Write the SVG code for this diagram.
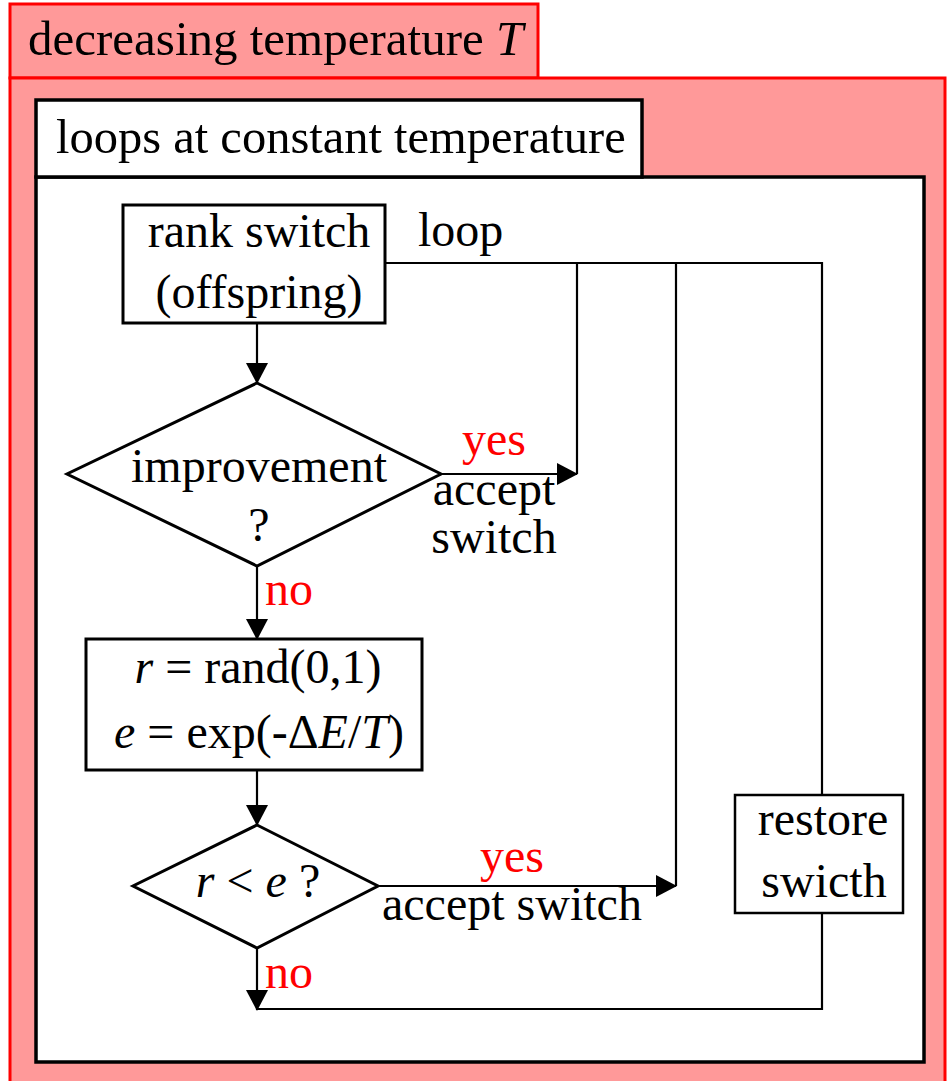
<svg xmlns="http://www.w3.org/2000/svg" width="947" height="1081" viewBox="0 0 947 1081">
<style>
text{font-family:"Liberation Serif","Times New Roman",serif;font-size:48px;fill:#000}
.red{fill:#ff0000}
.it{font-style:italic}
.frame{fill:#ff9999;stroke:#ff0000;stroke-width:3}
.inner{fill:#ffffff;stroke:#000;stroke-width:3.5}
.box{fill:#ffffff;stroke:#000;stroke-width:3}
.thin{fill:#ffffff;stroke:#000;stroke-width:2.5}
.con{fill:none;stroke:#000;stroke-width:2.2}
</style>
<defs>
<marker id="ah" markerUnits="userSpaceOnUse" markerWidth="22" markerHeight="24" refX="20" refY="12" orient="auto">
<path d="M0,1 L21,12 L0,23 z" fill="#000"/>
</marker>
</defs>
<g id="outer-frame">
<rect class="frame" x="10" y="4" width="528" height="74"/>
<rect class="frame" x="10" y="78" width="935" height="1015"/>
<text x="28" y="55" style="font-size:49px">decreasing temperature <tspan class="it">T</tspan></text>
</g>
<g id="inner-frame">
<rect class="inner" x="36" y="177" width="888" height="885"/>
<rect class="inner" x="36" y="100" width="606" height="77"/>
<text x="56" y="153" style="font-size:48.5px">loops at constant temperature</text>
</g>
<g id="connectors">
<line class="con" x1="257" y1="323" x2="257" y2="383" marker-end="url(#ah)"/>
<line class="con" x1="441" y1="474" x2="577" y2="474" marker-end="url(#ah)"/>
<polyline class="con" points="385,263 822,263 822,795"/>
<line class="con" x1="577" y1="263" x2="577" y2="474"/>
<line class="con" x1="676" y1="263" x2="676" y2="886"/>
<line class="con" x1="257" y1="566" x2="257" y2="639" marker-end="url(#ah)"/>
<line class="con" x1="257" y1="770" x2="257" y2="825" marker-end="url(#ah)"/>
<line class="con" x1="378" y1="886" x2="676" y2="886" marker-end="url(#ah)"/>
<line class="con" x1="257" y1="948" x2="257" y2="1010" marker-end="url(#ah)"/>
<polyline class="con" points="257,1009 822,1009 822,913"/>
<text x="462" y="455" class="red">yes</text>
<text x="494" y="505" text-anchor="middle">accept</text>
<text x="494" y="553" text-anchor="middle">switch</text>
<text x="265" y="605" class="red">no</text>
<text x="480" y="872" class="red">yes</text>
<text x="382" y="920">accept switch</text>
<text x="265" y="988" class="red">no</text>
<text x="418" y="246">loop</text>
</g>
<g id="rank-switch">
<rect class="box" x="123" y="205" width="262" height="118"/>
<text x="259" y="247" text-anchor="middle">rank switch</text>
<text x="259" y="308" text-anchor="middle">(offspring)</text>
</g>
<g id="improvement">
<polygon class="box" points="257,383 441,474 257,566 67,474"/>
<text x="259" y="482" text-anchor="middle">improvement</text>
<text x="259" y="541" text-anchor="middle">?</text>
</g>
<g id="random">
<rect class="box" x="86" y="639" width="336" height="131"/>
<text x="258" y="683" text-anchor="middle"><tspan class="it">r</tspan> = rand(0,1)</text>
<text x="259" y="748" text-anchor="middle"><tspan class="it">e</tspan> = exp(-Δ<tspan class="it">E</tspan>/<tspan class="it">T</tspan>)</text>
</g>
<g id="compare">
<polygon class="box" points="257,825 378,886 257,948 133,886"/>
<text x="258" y="897" text-anchor="middle"><tspan class="it">r</tspan> &lt; <tspan class="it">e</tspan> ?</text>
</g>
<g id="restore">
<rect class="thin" x="735" y="795" width="168" height="118"/>
<text x="823" y="835" text-anchor="middle">restore</text>
<text x="824" y="897" text-anchor="middle">swicth</text>
</g>
</svg>
